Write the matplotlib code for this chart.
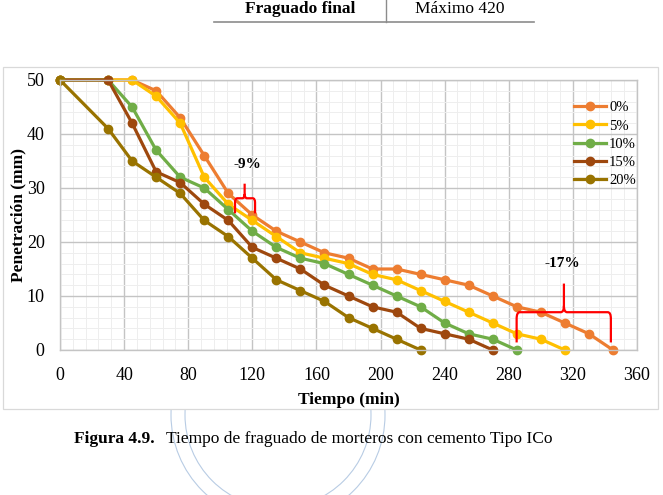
import numpy as np
import matplotlib
matplotlib.use('Agg')
import matplotlib.pyplot as plt
from matplotlib.patches import Rectangle, Circle, PathPatch
from matplotlib.path import Path
from matplotlib.lines import Line2D
from matplotlib.ticker import MultipleLocator

plt.rcParams['font.family'] = ['Liberation Serif', 'DejaVu Serif']

# datos: tiempo (min) vs penetracion (mm)
t_0 = [0, 30, 45, 60, 75, 90, 105, 120, 135, 150, 165, 180, 195, 210, 225, 240, 255, 270, 285, 300, 315, 330, 345]
p_0 = [50, 50, 50, 48, 43, 36, 29, 25, 22, 20, 18, 17, 15, 15, 14, 13, 12, 10, 8, 7, 5, 3, 0]
t_5 = [0, 30, 45, 60, 75, 90, 105, 120, 135, 150, 165, 180, 195, 210, 225, 240, 255, 270, 285, 300, 315]
p_5 = [50, 50, 50, 47, 42, 32, 27, 24, 21, 18, 17, 16, 14, 13, 11, 9, 7, 5, 3, 2, 0]
t_10 = [0, 30, 45, 60, 75, 90, 105, 120, 135, 150, 165, 180, 195, 210, 225, 240, 255, 270, 285]
p_10 = [50, 50, 45, 37, 32, 30, 26, 22, 19, 17, 16, 14, 12, 10, 8, 5, 3, 2, 0]
t_15 = [0, 30, 45, 60, 75, 90, 105, 120, 135, 150, 165, 180, 195, 210, 225, 240, 255, 270]
p_15 = [50, 50, 42, 33, 31, 27, 24, 19, 17, 15, 12, 10, 8, 7, 4, 3, 2, 0]
t_20 = [0, 30, 45, 60, 75, 90, 105, 120, 135, 150, 165, 180, 195, 210, 225]
p_20 = [50, 41, 35, 32, 29, 24, 21, 17, 13, 11, 9, 6, 4, 2, 0]

labels = ['0%', '5%', '10%', '15%', '20%']
colors = ['#ED7D31', '#FFC000', '#70AD47', '#9E480E', '#997300']
series = [(t_0, p_0), (t_5, p_5), (t_10, p_10), (t_15, p_15), (t_20, p_20)]

W, H = 663, 495
fig = plt.figure(figsize=(W / 100, H / 100), dpi=100)

def fx(px):
    return px / W

def fy(py):
    return 1 - py / H

# tabla de arriba (resto de la pagina)
fig.text(fx(300), fy(13), 'Fraguado final', ha='center', va='baseline', fontsize=12.5, fontweight='bold')
fig.text(fx(460), fy(13), 'Máximo 420', ha='center', va='baseline', fontsize=12.5)
fig.add_artist(Line2D([fx(214), fx(534)], [fy(21.7), fy(21.7)], color='#8c8c8c', lw=1.2))
fig.add_artist(Line2D([fx(386), fx(386)], [fy(0), fy(21.7)], color='#8c8c8c', lw=1.0))

# marca de agua (solo se ve debajo del grafico)
for r in [107, 93]:
    c = Circle((278 / 100, (H - 415) / 100), r / 100, transform=fig.dpi_scale_trans,
               fill=False, edgecolor='#b8cce4', lw=0.8, zorder=0)
    fig.add_artist(c)

# marco del grafico
box = Rectangle((fx(3), fy(409)), fx(658) - fx(3), fy(67) - fy(409), transform=fig.transFigure,
                facecolor='white', edgecolor='#d9d9d9', lw=0.9, zorder=1)
fig.add_artist(box)

ax = fig.add_axes([fx(60), fy(350), fx(637) - fx(60), fy(80) - fy(350)])
ax.set_zorder(2)
ax.set_facecolor('white')

for (t, p), lab, col in zip(series, labels, colors):
    ax.plot(t, p, color=col, lw=2.3, marker='o', markersize=6, label=lab, clip_on=False)

ax.set_xlim(0, 360)
ax.set_ylim(0, 50)
ax.set_xticks(np.arange(0, 361, 40))
ax.set_yticks(np.arange(0, 51, 10))
ax.xaxis.set_minor_locator(MultipleLocator(8))
ax.yaxis.set_minor_locator(MultipleLocator(2))
ax.grid(which='major', color='#c4c4c4', lw=1.0)
ax.grid(which='minor', color='#eeeeee', lw=0.7)
ax.set_axisbelow(True)
for s in ax.spines.values():
    s.set_color('#c4c4c4')
    s.set_linewidth(1.0)
ax.tick_params(which='both', length=0, labelsize=13)
ax.tick_params(axis='x', pad=12)
ax.tick_params(axis='y', pad=11)

ax.set_xlabel('Tiempo (min)', fontsize=12.5, fontweight='bold', labelpad=6)
ax.set_ylabel('Penetración (mm)', fontsize=12.5, fontweight='bold')
ax.yaxis.set_label_coords((26 - 60) / 577, 0.5)

ax.legend(loc='upper left', bbox_to_anchor=((574 - 60) / 577, (350 - 101) / 270), frameon=False,
          fontsize=10.5, handlelength=2.2, handletextpad=0.2, labelspacing=0.35, borderpad=0,
          borderaxespad=0)

# llaves rojas con los porcentajes
def llave(ax, x0, x1, xm, yb, ym, yt, rx, ry):
    verts = [(x0, yb), (x0, ym - ry), (x0, ym), (x0 + rx, ym),
             (xm - rx, ym), (xm, ym), (xm, ym + ry), (xm, yt),
             (xm, ym + ry), (xm, ym), (xm + rx, ym),
             (x1 - rx, ym), (x1, ym), (x1, ym - ry), (x1, yb)]
    codes = [Path.MOVETO, Path.LINETO, Path.CURVE3, Path.CURVE3,
             Path.LINETO, Path.CURVE3, Path.CURVE3, Path.LINETO,
             Path.MOVETO, Path.CURVE3, Path.CURVE3,
             Path.LINETO, Path.CURVE3, Path.CURVE3, Path.LINETO]
    ax.add_patch(PathPatch(Path(verts, codes), fill=False, edgecolor='#FF0000', lw=1.6, zorder=5))

llave(ax, 109.2, 121.7, 115.2, 25.3, 28.1, 30.8, 1.5, 0.8)
llave(ax, 284.9, 343.7, 314.4, 1.4, 7.0, 12.3, 2.0, 1.2)
ax.text(117, 34.3, '-9%', ha='center', va='center', fontsize=11, fontweight='bold')
ax.text(313.5, 16, '-17%', ha='center', va='center', fontsize=11, fontweight='bold')

# pie de figura
fig.text(fx(74), fy(443), 'Figura 4.9.', ha='left', va='baseline', fontsize=12.5, fontweight='bold')
fig.text(fx(166), fy(443), 'Tiempo de fraguado de morteros con cemento Tipo ICo', ha='left',
         va='baseline', fontsize=12.5)

fig.savefig('out.png', dpi=100)
